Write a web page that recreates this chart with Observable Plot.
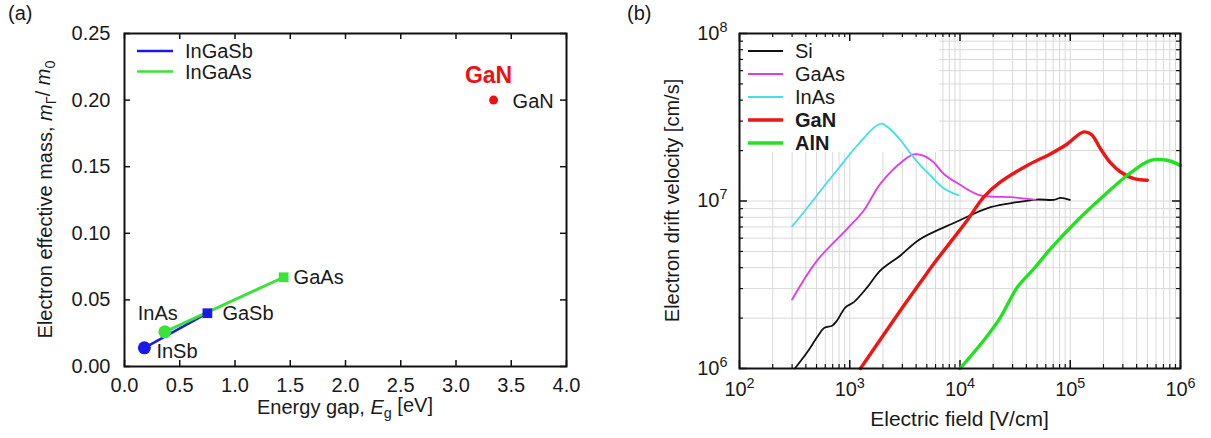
<!DOCTYPE html>
<html><head><meta charset="utf-8">
<script src="https://cdn.jsdelivr.net/npm/d3@7"></script>
<script src="https://cdn.jsdelivr.net/npm/@observablehq/plot@0.6"></script>
<style>
body{margin:0;background:#fff;}
#wrap{position:relative;width:1211px;height:438px;font-family:"Liberation Sans",Arial,sans-serif;color:#1a1a1a;overflow:hidden;background:#fff}
.panel{position:absolute;top:0}
.plabel{position:absolute;top:2px;font-size:20px}
svg.overlay{position:absolute;left:0;top:0;pointer-events:none}
</style></head><body><div id="wrap"></div>
<script>
// ---------- Panel (a) data ----------
const ingasbNames = ["InSb", "GaSb"];
const ingasbEg = [0.18, 0.75];
const ingasbMass = [0.014, 0.040];
const ingaasNames = ["InAs", "GaAs"];
const ingaasEg = [0.365, 1.44];
const ingaasMass = [0.026, 0.067];
const ganNames = ["GaN"];
const ganEg = [3.34];
const ganMass = [0.200];
const xTicksA = [0, 0.5, 1, 1.5, 2, 2.5, 3, 3.5, 4];
const yTicksA = [0, 0.05, 0.10, 0.15, 0.20, 0.25];

// ---------- Panel (b) data ----------
const siField = [318, 411, 507, 590, 693, 770, 914, 1089, 1440, 1900, 2885, 4300, 9100, 1.89e4, 3.3e4, 5.0e4, 7.1e4, 8.2e4, 9.9e4];
const siVel   = [1.0e6, 1.25e6, 1.54e6, 1.75e6, 1.8e6, 1.94e6, 2.32e6, 2.49e6, 3.05e6, 3.85e6, 4.73e6, 5.9e6, 7.47e6, 9.18e6, 9.84e6, 1.02e7, 1.016e7, 1.045e7, 1.016e7];
const gaasField = [300, 507, 948, 1340, 1900, 3090, 3810, 4700, 5780, 7130, 1.0e4, 1.53e4, 2.87e4, 4.84e4];
const gaasVel   = [2.58e6, 4.42e6, 6.82e6, 8.77e6, 1.27e7, 1.75e7, 1.9e7, 1.86e7, 1.7e7, 1.45e7, 1.25e7, 1.08e7, 1.055e7, 1.016e7];
const inasField = [300, 400, 600, 800, 1100, 1400, 1700, 1950, 2300, 2900, 3600, 4500, 5400, 7000, 9700];
const inasVel   = [7.05e6, 8.9e6, 1.25e7, 1.58e7, 2.05e7, 2.45e7, 2.78e7, 2.9e7, 2.7e7, 2.3e7, 1.9e7, 1.6e7, 1.42e7, 1.2e7, 1.08e7];
const ganField = [1250, 2880, 4380, 5780, 1.16e4, 1.64e4, 2.33e4, 4.07e4, 6.6e4, 9.4e4, 1.31e5, 1.55e5, 1.88e5, 2.3e5, 2.86e5, 3.77e5, 5.0e5];
const ganVel   = [1.0e6, 2.22e6, 3.27e6, 4.22e6, 7.65e6, 1.055e7, 1.3e7, 1.63e7, 1.91e7, 2.19e7, 2.58e7, 2.5e7, 2.05e7, 1.7e7, 1.49e7, 1.36e7, 1.33e7];
const alnField = [1.0e4, 1.64e4, 2.33e4, 3.3e4, 4.68e4, 6.62e4, 1.16e5, 1.88e5, 3.28e5, 5.35e5, 7.57e5, 1.0e6];
const alnVel   = [1.0e6, 1.47e6, 2.02e6, 3.05e6, 3.94e6, 5.18e6, 7.65e6, 1.03e7, 1.42e7, 1.75e7, 1.75e7, 1.63e7];
const seriesB = ["Si", "GaAs", "InAs", "GaN", "AlN"];
const colorsB = ["#111111", "#e23ae6", "#3fe0ea", "#ee1515", "#22e022"];
const xMajorB = [1e2, 1e3, 1e4, 1e5, 1e6];
const yMajorB = [1e6, 1e7, 1e8];
const mantissas = [2, 3, 4, 5, 6, 7, 8, 9];
const legendBoxX = 6500, legendBoxY = 1.95e7;

const FONT = '"Liberation Sans", Arial, sans-serif';
const FS = 20;
const wrap = document.getElementById("wrap");
const H = 438;

// ---------- Panel (a) ----------
const mA = {left: 124, right: 34, top: 33, bottom: 72};
const WA = 600;
const iwA = WA - mA.left - mA.right, ihA = H - mA.top - mA.bottom;
const tabSb = ingasbNames.map((n, i) => ({n, x: ingasbEg[i], y: ingasbMass[i]}));
const tabAs = ingaasNames.map((n, i) => ({n, x: ingaasEg[i], y: ingaasMass[i]}));
const tabGaN = ganNames.map((n, i) => ({n, x: ganEg[i], y: ganMass[i]}));
const blue = "#1a1ae8", green = "#3ae23a";

const plotA = Plot.plot({
  width: WA, height: H,
  marginLeft: mA.left, marginRight: mA.right, marginTop: mA.top, marginBottom: mA.bottom,
  x: {domain: [0, 4]}, y: {domain: [0, 0.25]},
  style: {fontFamily: FONT, fontSize: FS + "px", color: "#1a1a1a", background: "transparent", overflow: "visible"},
  marks: [
    Plot.axisX(xTicksA, {tickSize: 0, tickPadding: 11, tickFormat: d3.format(".1f"), label: null, fontSize: FS}),
    Plot.axisY(yTicksA, {tickSize: 0, tickPadding: 14, tickFormat: d3.format(".2f"), label: null, fontSize: FS}),
    Plot.tickX(xTicksA, {x: d => d, insetTop: ihA - 6, stroke: "#111", strokeWidth: 1.5}),
    Plot.tickX(xTicksA, {x: d => d, insetBottom: ihA - 6, stroke: "#111", strokeWidth: 1.5}),
    Plot.tickY(yTicksA, {y: d => d, insetRight: iwA - 6, stroke: "#111", strokeWidth: 1.5}),
    Plot.tickY(yTicksA, {y: d => d, insetLeft: iwA - 6, stroke: "#111", strokeWidth: 1.5}),
    Plot.line(tabSb, {x: "x", y: "y", stroke: blue, strokeWidth: 2.5}),
    Plot.line(tabAs, {x: "x", y: "y", stroke: green, strokeWidth: 3}),
    Plot.dot(tabSb.filter(d => d.n === "InSb"), {x: "x", y: "y", r: 6.5, fill: blue}),
    Plot.dot(tabSb.filter(d => d.n === "GaSb"), {x: "x", y: "y", r: 5.5, symbol: "square", fill: blue}),
    Plot.dot(tabAs.filter(d => d.n === "InAs"), {x: "x", y: "y", r: 6.5, fill: green}),
    Plot.dot(tabAs.filter(d => d.n === "GaAs"), {x: "x", y: "y", r: 5.5, symbol: "square", fill: green}),
    Plot.dot(tabGaN, {x: "x", y: "y", r: 4.5, fill: "#ee1111"}),
    Plot.text(tabSb.filter(d => d.n === "InSb"), {x: "x", y: "y", text: "n", dx: 12, dy: 4, textAnchor: "start", fontSize: FS, fill: "#1a1a1a"}),
    Plot.text(tabSb.filter(d => d.n === "GaSb"), {x: "x", y: "y", text: "n", dx: 15, dy: 0, textAnchor: "start", fontSize: FS, fill: "#1a1a1a"}),
    Plot.text(tabAs.filter(d => d.n === "InAs"), {x: "x", y: "y", text: "n", dx: -7, dy: -18, textAnchor: "middle", fontSize: FS, fill: "#1a1a1a"}),
    Plot.text(tabAs.filter(d => d.n === "GaAs"), {x: "x", y: "y", text: "n", dx: 10, dy: 0, textAnchor: "start", fontSize: FS, fill: "#1a1a1a"}),
    Plot.text(tabGaN, {x: "x", y: "y", text: "n", dx: 19, dy: 1, textAnchor: "start", fontSize: FS, fill: "#1a1a1a"}),
    Plot.text(tabGaN, {x: "x", y: "y", text: "n", dx: -5, dy: -24, textAnchor: "middle", fontSize: 23, fontWeight: "bold", fill: "#ee1111"}),
    Plot.frame({stroke: "#111", strokeWidth: 2})
  ]
});
plotA.classList.add("panel");
plotA.style.left = "0px";
wrap.appendChild(plotA);

// ---------- Panel (b) ----------
const mB = {left: 128, right: 31, top: 33, bottom: 70};
const WB = 600, leftB = 611;
const iwB = WB - mB.left - mB.right, ihB = H - mB.top - mB.bottom;
const minorXB = [1e2, 1e3, 1e4, 1e5].flatMap(p => mantissas.map(m => m * p));
const minorYB = [1e6, 1e7].flatMap(p => mantissas.map(m => m * p));
const gridXB = minorXB.concat([1e3, 1e4, 1e5]);
const gridYB = minorYB.concat([1e7]);
const fieldsB = [siField, gaasField, inasField, ganField, alnField];
const velsB = [siVel, gaasVel, inasVel, ganVel, alnVel];
const widthsB = [1.8, 1.8, 1.8, 3.4, 3.4];
const curveMarks = seriesB.map((s, k) =>
  Plot.line(fieldsB[k].map((f, i) => ({x: f, y: velsB[k][i]})),
    {x: "x", y: "y", stroke: colorsB[k], strokeWidth: widthsB[k], curve: "catmull-rom"}));
const sup = d => "10^" + Math.round(Math.log10(d));

const plotB = Plot.plot({
  width: WB, height: H,
  marginLeft: mB.left, marginRight: mB.right, marginTop: mB.top, marginBottom: mB.bottom,
  x: {type: "log", domain: [1e2, 1e6]}, y: {type: "log", domain: [1e6, 1e8]},
  style: {fontFamily: FONT, fontSize: FS + "px", color: "#1a1a1a", background: "transparent", overflow: "visible"},
  marks: [
    Plot.ruleX(gridXB, {x: d => d, y1: 1e6, y2: d => d < legendBoxX ? legendBoxY : 1e8, stroke: "#d9d9d9", strokeWidth: 1}),
    Plot.ruleY(gridYB, {y: d => d, x1: d => d >= legendBoxY ? legendBoxX : 1e2, x2: 1e6, stroke: "#d9d9d9", strokeWidth: 1}),
    Plot.axisX(xMajorB, {tickSize: 0, tickPadding: 13, tickFormat: sup, label: null, fontSize: FS}),
    Plot.axisY(yMajorB, {tickSize: 0, tickPadding: 12, tickFormat: sup, label: null, fontSize: FS}),
    Plot.tickX(xMajorB, {x: d => d, insetTop: ihB - 8, stroke: "#111", strokeWidth: 1.5}),
    Plot.tickX(xMajorB, {x: d => d, insetBottom: ihB - 8, stroke: "#111", strokeWidth: 1.5}),
    Plot.tickX(minorXB, {x: d => d, insetTop: ihB - 4, stroke: "#111", strokeWidth: 1.2}),
    Plot.tickX(minorXB, {x: d => d, insetBottom: ihB - 4, stroke: "#111", strokeWidth: 1.2}),
    Plot.tickY(yMajorB, {y: d => d, insetRight: iwB - 8, stroke: "#111", strokeWidth: 1.5}),
    Plot.tickY(yMajorB, {y: d => d, insetLeft: iwB - 8, stroke: "#111", strokeWidth: 1.5}),
    Plot.tickY(minorYB, {y: d => d, insetRight: iwB - 4, stroke: "#111", strokeWidth: 1.2}),
    Plot.tickY(minorYB, {y: d => d, insetLeft: iwB - 4, stroke: "#111", strokeWidth: 1.2}),
    ...curveMarks,
    Plot.frame({stroke: "#111", strokeWidth: 2})
  ]
});
plotB.classList.add("panel");
plotB.style.left = leftB + "px";
wrap.appendChild(plotB);

// superscript tick labels for panel (b)
plotB.querySelectorAll('g[aria-label="x-axis tick label"] text, g[aria-label="y-axis tick label"] text').forEach(t => {
  const m = t.textContent.match(/^10\^(\d+)$/);
  if (!m) return;
  t.textContent = "";
  const s = d3.select(t);
  s.append("tspan").text("10");
  s.append("tspan").attr("dy", "-0.55em").attr("font-size", "0.72em").text(m[1]);
});

// ---------- Axis titles ----------
const sA = d3.select(plotA);
const tA = sA.append("text").attr("x", mA.left + iwA / 2).attr("y", 414).attr("text-anchor", "middle")
  .attr("font-family", FONT).attr("font-size", FS).attr("fill", "#1a1a1a");
tA.append("tspan").text("Energy gap, ");
tA.append("tspan").attr("font-style", "italic").text("E");
tA.append("tspan").attr("dy", "0.3em").attr("font-size", "0.72em").text("g");
tA.append("tspan").attr("dy", "-0.3em").text(" [eV]");
const yA = sA.append("text").attr("transform", `translate(52,${mA.top + ihA / 2}) rotate(-90)`).attr("text-anchor", "middle")
  .attr("font-family", FONT).attr("font-size", FS).attr("fill", "#1a1a1a");
yA.append("tspan").text("Electron effective mass, ");
yA.append("tspan").attr("font-style", "italic").text("m");
yA.append("tspan").attr("dy", "0.3em").attr("font-size", "0.72em").text("Γ");
yA.append("tspan").attr("dy", "-0.3em").text("/ ");
yA.append("tspan").attr("font-style", "italic").text("m");
yA.append("tspan").attr("dy", "0.3em").attr("font-size", "0.72em").text("0");

const sB = d3.select(plotB);
sB.append("text").attr("x", mB.left + iwB / 2).attr("y", 426).attr("text-anchor", "middle")
  .attr("font-family", FONT).attr("font-size", FS + 1).attr("fill", "#1a1a1a").text("Electric field [V/cm]");
sB.append("text").attr("transform", `translate(68,${mB.top + ihB / 2}) rotate(-90)`).attr("text-anchor", "middle")
  .attr("font-family", FONT).attr("font-size", FS).attr("fill", "#1a1a1a").text("Electron drift velocity [cm/s]");

// ---------- Panel labels ----------
["(a)", "(b)"].forEach((t, i) => {
  const d = document.createElement("div");
  d.className = "plabel"; d.textContent = t;
  d.style.left = (i === 0 ? 8 : 627) + "px";
  wrap.appendChild(d);
});

// ---------- Legends ----------
const ov = d3.select(wrap).append("svg").attr("class", "overlay").attr("width", 1211).attr("height", 438)
  .attr("font-family", FONT).attr("font-size", FS).attr("fill", "#1a1a1a");
const legA = [{t: "InGaSb", c: blue}, {t: "InGaAs", c: green}];
legA.forEach((d, i) => {
  const y = 51 + i * 20.5;
  ov.append("line").attr("x1", 137).attr("x2", 173).attr("y1", y).attr("y2", y).attr("stroke", d.c).attr("stroke-width", 2.5);
  ov.append("text").attr("x", 185).attr("y", y).attr("dy", "0.36em").text(d.t);
});
seriesB.forEach((s, k) => {
  const y = 51 + k * 23;
  ov.append("line").attr("x1", 748).attr("x2", 783).attr("y1", y).attr("y2", y).attr("stroke", colorsB[k]).attr("stroke-width", widthsB[k]);
  ov.append("text").attr("x", 795).attr("y", y).attr("dy", "0.36em").attr("font-weight", k >= 3 ? "bold" : "normal").text(s);
});
</script></body></html>
